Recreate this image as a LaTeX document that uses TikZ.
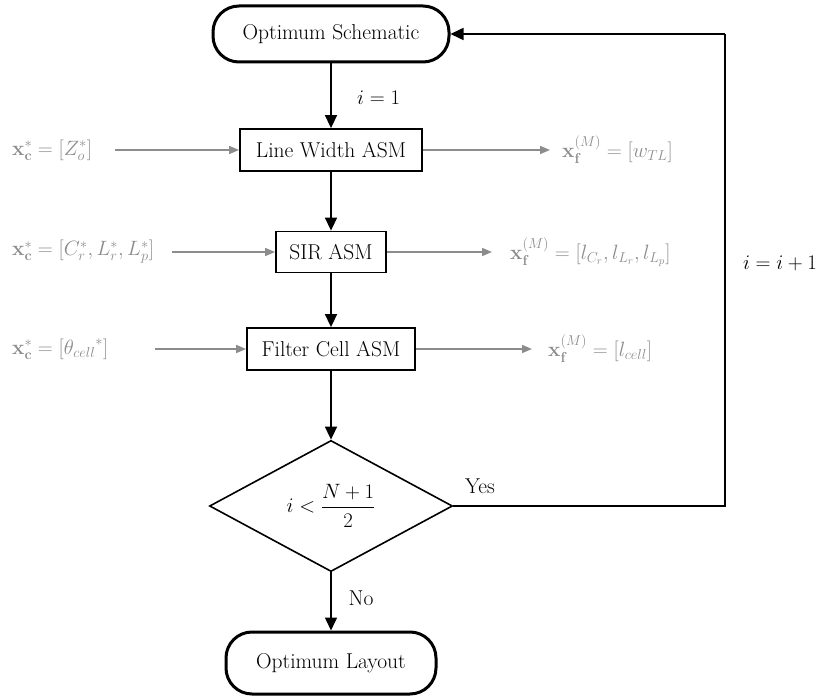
\documentclass[tikz,border=0pt]{standalone}
\usepackage{amsmath}
\usetikzlibrary{arrows.meta,shapes.geometric}
\definecolor{sidegray}{HTML}{8C8C8C}
\tikzset{
  flow/.style={line width=1.6pt,-{Triangle[length=13pt,width=12pt]}},
  flowline/.style={line width=1.6pt},
  side/.style={line width=1.6pt,draw=sidegray,-{Triangle[length=10pt,width=8pt]}},
  terminal/.style={draw,line width=3pt,rounded corners=26pt,inner sep=0pt},
  procbox/.style={draw,line width=1.8pt,rectangle,inner sep=0pt},
  decision/.style={draw,line width=1.6pt,diamond,inner sep=0pt,minimum width=243pt,minimum height=129pt},
  sidetext/.style={text=sidegray,inner sep=0pt},
  lbl/.style={inner sep=0pt}
}
\begin{document}
\begin{tikzpicture}[x=1pt,y=-1pt,font=\fontsize{21.5}{25}\selectfont]
\useasboundingbox (0,0) rectangle (828,700);

% main column
\node[terminal,minimum width=236pt,minimum height=56pt] (os) at (331,34) {Optimum Schematic};
\node[procbox,minimum width=182pt,minimum height=42pt] (lw) at (331,150) {Line Width ASM};
\node[procbox,minimum width=110pt,minimum height=41pt] (sir) at (331,252) {SIR ASM};
\node[procbox,minimum width=168pt,minimum height=42pt] (fc) at (331,349) {Filter Cell ASM};
\node[decision] (d) at (331,506) {$i<\dfrac{N+1}{2}$};
\node[terminal,minimum width=210pt,minimum height=62pt] (ol) at (331,663) {Optimum Layout};

% coarse-model parameters (inputs)
\node[sidetext,anchor=west] (c1) at (12,150) {$\mathbf{x}_{\mathbf{c}}^{*}=[Z_o^{*}]$};
\node[sidetext,anchor=west] (c2) at (12,252) {$\mathbf{x}_{\mathbf{c}}^{*}=[C_r^{*},L_r^{*},L_p^{*}]$};
\node[sidetext,anchor=west] (c3) at (12,349) {$\mathbf{x}_{\mathbf{c}}^{*}=[{\theta_{cell}}^{*}]$};
\coordinate (t1) at (115,150);
\coordinate (t2) at (172,252);
\coordinate (t3) at (155,349);

% fine-model parameters (outputs)
\node[sidetext,anchor=west] (f1) at (562,150) {$\mathbf{x}_{\mathbf{f}}^{(M)}=[w_{TL}]$};
\node[sidetext,anchor=west] (f2) at (510,252) {$\mathbf{x}_{\mathbf{f}}^{(M)}=[l_{C_r},l_{L_r},l_{L_p}]$};
\node[sidetext,anchor=west] (f3) at (548,349) {$\mathbf{x}_{\mathbf{f}}^{(M)}=[l_{cell}]$};

% labels
\node[lbl,anchor=west] (l1) at (357,98) {$i=1$};
\node[lbl] (l2) at (780,263) {$i=i+1$};
\node[lbl] (l3) at (480,486) {Yes};
\node[lbl] (l4) at (361,598) {No};

% flow connectors
\draw[flow] (os) -- (lw);
\draw[flow] (lw) -- (sir);
\draw[flow] (sir) -- (fc);
\draw[flow] (fc) -- (d);
\draw[flow] (d) -- (ol);
\coordinate (r1) at (725,506);
\coordinate (r2) at (725,34);
\draw[flowline] (d.east) -- (r1) -- (r2);
\draw[flow] (r2) -- (os.east);

% side connectors
\draw[side] (t1) -- (lw.west);
\draw[side] (t2) -- (sir.west);
\draw[side] (t3) -- (fc.west);
\draw[side] (lw.east) -- ([xshift=-12pt]f1.west);
\draw[side] (sir.east) -- ([xshift=-18pt]f2.west);
\draw[side] (fc.east) -- ([xshift=-16pt]f3.west);
\end{tikzpicture}
\end{document}
